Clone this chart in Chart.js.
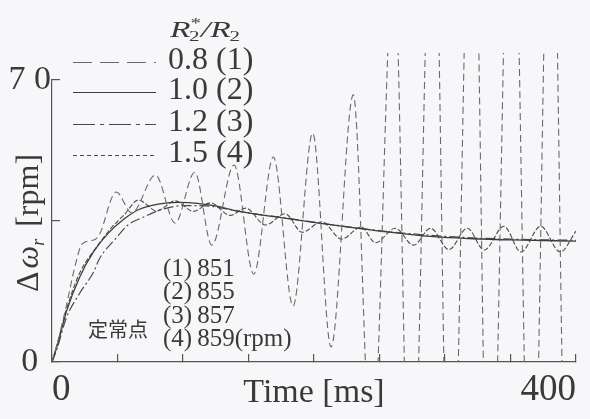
<!DOCTYPE html>
<html>
<head>
<meta charset="utf-8">
<script src="https://cdn.jsdelivr.net/npm/chart.js@4.4.1/dist/chart.umd.min.js"></script>
<style>
  html, body { margin: 0; padding: 0; background: #f7f7f9; }
  canvas { display: block; }
</style>
</head>
<body>
<canvas id="myChart" width="590" height="419"></canvas>
<script>
// R2*/R2 ratio of each run and the steady-state speed it settles to
var ratios = ['0.8', '1.0', '1.2', '1.5'];
var steadyRpm = ['851', '855', '857', '859'];

// time [ms] and speed change [rpm]
var time1 = [0, 4, 11, 17, 23, 32, 36, 49, 61, 79, 94, 109, 122, 139, 154, 169, 184, 199, 213, 230, 244, 261, 274, 291, 304, 321, 334, 351, 366, 381, 394, 400];
var speed1 = [0, 4.5, 14, 23, 29.3, 30.3, 31.5, 42.2, 37, 46.4, 34.5, 47.1, 29, 48.9, 21.8, 50.9, 13.9, 56.8, 3.7, 66.3, -25, 100, -50, 130, -60, 140, -60, 140, -60, 140, -60, -45];

var time2 = [0, 4, 11, 21, 32, 43, 55, 66, 81, 96, 111, 126, 141, 171, 201, 231, 261, 291, 321, 351, 400];
var speed2 = [0, 4, 12.5, 21, 27.5, 32, 35.5, 37.8, 39.2, 39.6, 39.4, 38.7, 37.5, 36, 34.6, 33.3, 32.1, 31.1, 30.6, 30.3, 30];

var time3 = [0, 4, 11, 21, 32, 36, 49, 58, 70, 85, 100, 115, 130, 150, 175, 200, 250, 300, 350, 400];
var speed3 = [0, 3.5, 11, 17, 22.5, 25.5, 30.8, 34, 36, 38, 38.8, 38.8, 38.2, 37, 35.9, 34.7, 32.6, 31.2, 30.5, 30.2];

var time4 = [0, 4, 11, 21, 34, 45, 55, 66, 80, 94, 108, 121, 136, 148, 163, 178, 191, 206, 221, 236, 247, 262, 276, 289, 303, 317, 330, 345, 358, 373, 388, 400];
var speed4 = [0, 4.5, 13, 22, 28.5, 33.2, 36.5, 40.2, 37.5, 40, 37.4, 39.5, 36.4, 38.2, 34, 36.8, 32.2, 34.8, 30.5, 33.5, 29.6, 33.2, 29, 33.2, 27.9, 33.2, 27.8, 33.7, 27.3, 33.7, 27.3, 32.5];

var yTicks = [0, 35, 70];
var yTickLabels = ['0', '', '7 0'];
var xTickLabels = { 0: '0', 400: '400' };

var ink = '#3a3a3a';
var serif = '"Liberation Serif", "DejaVu Serif", serif';

function pairs(t, v) {
  return t.map(function (x, i) { return { x: x, y: v[i] }; });
}

var background = {
  id: 'background',
  beforeDraw: function (chart) {
    var c = chart.ctx;
    c.save();
    c.fillStyle = '#f7f7f9';
    c.fillRect(0, 0, chart.width, chart.height);
    c.restore();
  }
};

// legend, header, steady-state note and the y title
var notes = {
  id: 'notes',
  afterDraw: function (chart) {
    var c = chart.ctx;
    c.save();
    c.fillStyle = ink;
    c.textBaseline = 'alphabetic';

    // header R2*/R2
    c.save();
    c.translate(170, 37);
    c.scale(1.4, 1);
    var x = 0;
    c.font = 'italic 24px ' + serif;
    c.fillText('R', 0, 0); x += c.measureText('R').width - 1;
    c.font = '15px ' + serif;
    c.fillText('2', x, 4);
    c.fillText('*', x + 1, -9); x += c.measureText('2').width + 1;
    c.font = 'italic 24px ' + serif;
    c.fillText('/', x, 0); x += c.measureText('/').width;
    c.fillText('R', x, 0); x += c.measureText('R').width - 1;
    c.font = '15px ' + serif;
    c.fillText('2', x, 4);
    c.restore();

    // legend rows
    var rowY = [62, 92, 124, 155];
    chart.data.datasets.forEach(function (ds, i) {
      c.save();
      c.strokeStyle = ds.borderColor;
      c.lineWidth = 1.2;
      c.setLineDash(ds.legendDash || []);
      c.beginPath();
      c.moveTo(73, rowY[i] + 0.5);
      c.lineTo(156, rowY[i] + 0.5);
      c.stroke();
      c.restore();
      c.font = '32px ' + serif;
      c.fillText(ratios[i] + ' (' + (i + 1) + ')', 168, rowY[i] + 7);
    });

    // steady-state speeds
    c.font = '20px "Noto Sans CJK JP"';
    c.fillText('定常点', 88, 337);
    c.font = '25px ' + serif;
    var noteY = [276, 299, 323, 346];
    steadyRpm.forEach(function (v, i) {
      var s = '(' + (i + 1) + ')\u2009' + v + (i === steadyRpm.length - 1 ? '(rpm)' : '');
      c.fillText(s, 163, noteY[i]);
    });

    // y title: Δω_r [rpm]
    c.translate(38, 292);
    c.rotate(-Math.PI / 2);
    x = 0;
    c.font = '32px ' + serif;
    c.fillText('Δ', x, 0); x += c.measureText('Δ').width + 3;
    c.font = 'italic 32px ' + serif;
    c.fillText('ω', x, 0); x += c.measureText('ω').width;
    c.font = 'italic 18px ' + serif;
    c.fillText('r', x, 6); x += c.measureText('r').width + 12;
    c.font = '32px ' + serif;
    c.fillText('[rpm]', x, 0);
    c.restore();
  }
};

var ctx = document.getElementById('myChart');
var myChart = new Chart(ctx, {
  type: 'line',
  data: {
    datasets: [{
      label: ratios[0],
      data: pairs(time1, speed1),
      borderColor: '#6a6a6a',
      borderWidth: 1.1,
      borderDash: [7, 4],
      legendDash: [19, 8],
      clip: { left: 0, top: 27, right: 0, bottom: 0 }
    }, {
      label: ratios[1],
      data: pairs(time2, speed2),
      borderColor: '#3c3c3c',
      borderWidth: 1.3,
      legendDash: []
    }, {
      label: ratios[2],
      data: pairs(time3, speed3),
      borderColor: '#4a4a4a',
      borderWidth: 1.2,
      borderDash: [10, 3, 2, 3],
      legendDash: [22, 5, 4, 5]
    }, {
      label: ratios[3],
      data: pairs(time4, speed4),
      borderColor: '#4a4a4a',
      borderWidth: 1.1,
      borderDash: [5, 2],
      legendDash: [4, 3]
    }]
  },
  options: {
    responsive: false,
    animation: false,
    cubicInterpolationMode: 'monotone',
    elements: {
      point: { radius: 0 },
      line: { cubicInterpolationMode: 'monotone' }
    },
    layout: {
      padding: { top: 80, right: 4, left: 0, bottom: 0 }
    },
    plugins: {
      legend: { display: false },
      tooltip: { enabled: false }
    },
    scales: {
      x: {
        type: 'linear',
        min: 0,
        max: 400,
        afterFit: function (scale) { scale.height = 57; },
        border: { display: true, color: '#555', width: 1.2 },
        grid: { drawOnChartArea: false, tickLength: -8, color: '#555', lineWidth: 1.2 },
        ticks: {
          stepSize: 50,
          autoSkip: false,
          maxRotation: 0,
          align: 'inner',
          padding: 14,
          color: ink,
          font: { family: serif, size: 37 },
          callback: function (v) { return xTickLabels[v] || ''; }
        },
        title: {
          display: true,
          text: 'Time [ms]',
          color: ink,
          font: { family: serif, size: 34 },
          padding: { top: 0, bottom: 6 }
        }
      },
      y: {
        type: 'linear',
        min: 0,
        max: 70,
        afterFit: function (scale) { scale.width = 52; },
        afterBuildTicks: function (scale) {
          scale.ticks = yTicks.map(function (v) { return { value: v }; });
        },
        border: { display: true, color: '#555', width: 1.2 },
        grid: { drawOnChartArea: false, tickLength: -8, color: '#555', lineWidth: 1.2 },
        ticks: {
          crossAlign: 'center',
          padding: 9,
          color: ink,
          font: { family: serif, size: 34 },
          callback: function (v) { return yTickLabels[yTicks.indexOf(v)]; }
        }
      }
    }
  },
  plugins: [background, notes]
});
</script>
</body>
</html>
